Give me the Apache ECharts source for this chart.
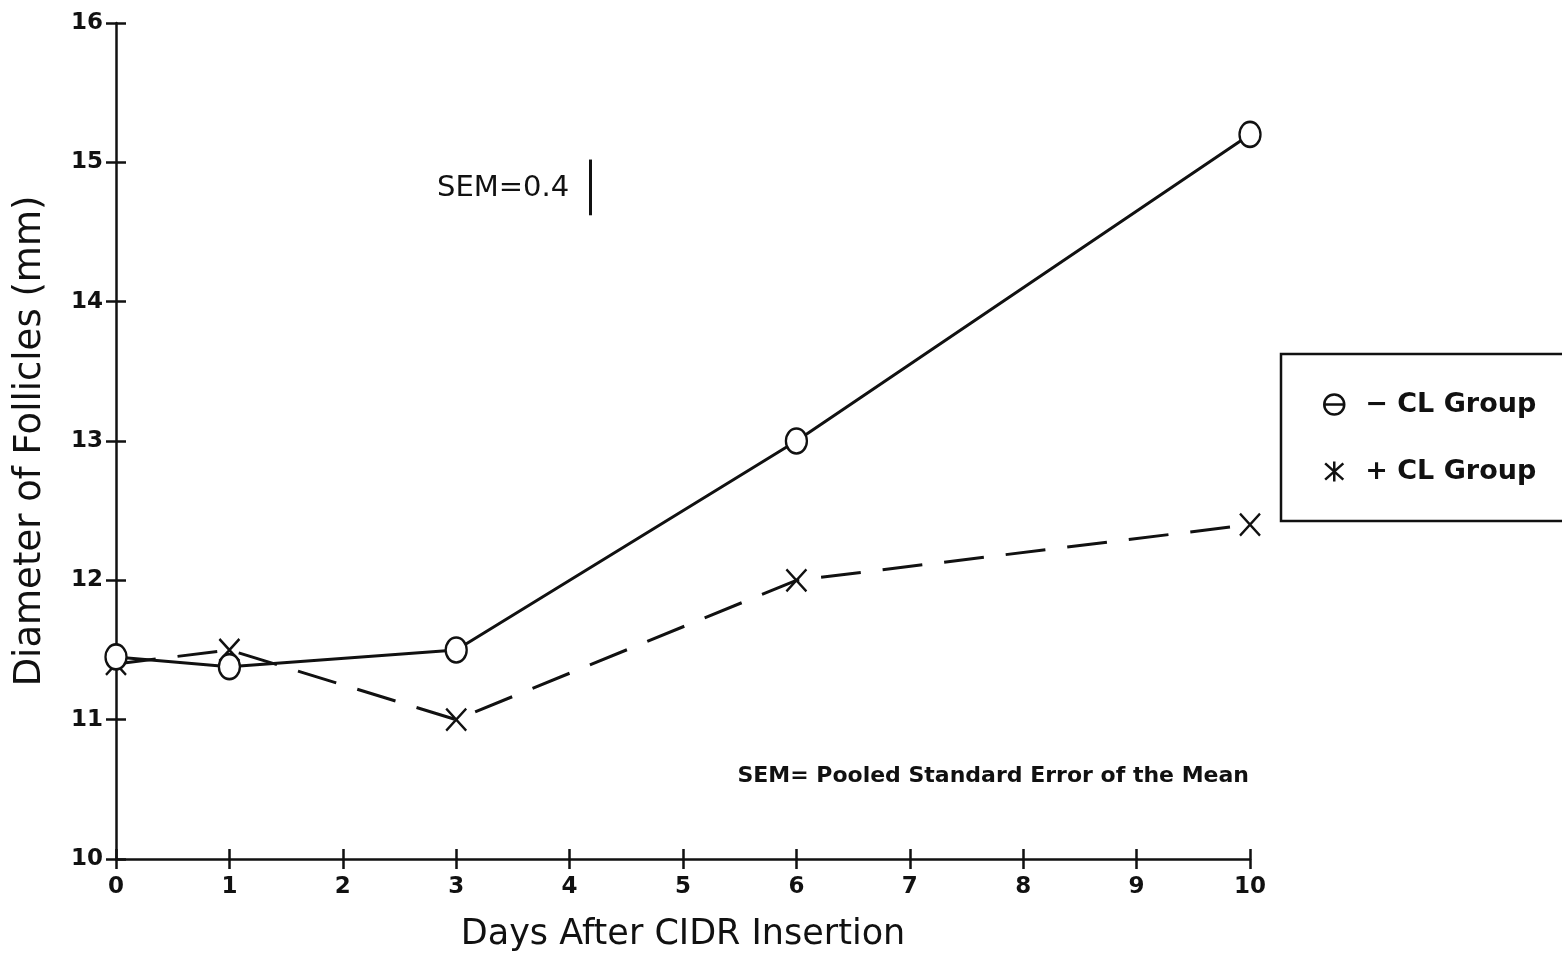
<!DOCTYPE html>
<html>
<head>
<meta charset="utf-8">
<title>Diameter of Follicles</title>
<script src="https://cdn.jsdelivr.net/npm/echarts@6/dist/echarts.min.js"></script>
<style>
  html, body { margin: 0; padding: 0; background: #fff; }
  #chart { width: 1562px; height: 957px; }
</style>
</head>
<body>
<div id="chart"></div>
<script>
// Days after CIDR insertion at which follicles were measured
const days = [0, 1, 3, 6, 10];
// Mean follicle diameter (mm)
const minusCL = [11.45, 11.38, 11.5, 13.0, 15.2];
const plusCL = [11.4, 11.5, 11.0, 12.0, 12.4];
const seriesNames = ['\u2212 CL Group', '+ CL Group'];
// Pooled SEM bar, drawn as a vertical segment of this length
const semValue = 0.4;
const semBarDay = 4.18;
const semBarTop = 15.02;

const FONT = 'DejaVu Sans';
const INK = '#111';

const circlePath = 'path://M0,12 A10,12 0 1,1 20,12 A10,12 0 1,1 0,12 Z';
const crossPath = 'path://M0,0 L20,22 M20,0 L0,22';
const thetaPath = 'path://M0,10 A10,10 0 1,1 20,10 A10,10 0 1,1 0,10 Z M0,10 L20,10';
const starPath = 'path://M0,2 L20,20 M20,2 L0,20 M10,0 L10,22';

const chart = echarts.init(document.getElementById('chart'), null, { renderer: 'canvas' });

const pairs = arr => days.map((d, i) => [d, arr[i]]);

const tickLabel = { color: INK, fontFamily: FONT, fontSize: 23, fontWeight: 'bold' };

chart.setOption({
  animation: false,
  backgroundColor: '#fff',
  grid: { left: 116, right: 312, top: 23, bottom: 97, containLabel: false },
  xAxis: [
    {
      type: 'value', min: 0, max: 10, interval: 1,
      axisLine: { show: true, lineStyle: { color: INK, width: 2.5 } },
      axisTick: { show: true, length: 10, lineStyle: { color: INK, width: 2.5 } },
      axisLabel: Object.assign({ margin: 17 }, tickLabel),
      splitLine: { show: false },
      name: 'Days After CIDR Insertion',
      nameLocation: 'middle',
      nameGap: 58,
      nameTextStyle: { color: INK, fontFamily: FONT, fontSize: 35 }
    },
    {
      type: 'value', min: 0, max: 10, interval: 1, position: 'bottom', offset: 0,
      axisLine: { show: false },
      axisTick: { show: true, inside: true, length: 10, lineStyle: { color: INK, width: 2.5 } },
      axisLabel: { show: false },
      splitLine: { show: false }
    }
  ],
  yAxis: [
    {
      type: 'value', min: 10, max: 16, interval: 1,
      axisLine: { show: true, lineStyle: { color: INK, width: 2.5 } },
      axisTick: { show: true, length: 10, lineStyle: { color: INK, width: 2.5 } },
      axisLabel: Object.assign({ margin: 13 }, tickLabel),
      splitLine: { show: false },
      name: 'Diameter of Follicles (mm)',
      nameLocation: 'middle',
      nameGap: 67,
      nameTextStyle: { color: INK, fontFamily: FONT, fontSize: 37 }
    },
    {
      type: 'value', min: 10, max: 16, interval: 1, position: 'left', offset: 0,
      axisLine: { show: false },
      axisTick: { show: true, inside: true, length: 10, lineStyle: { color: INK, width: 2.5 } },
      axisLabel: { show: false },
      splitLine: { show: false }
    }
  ],
  legend: {
    orient: 'vertical',
    left: 1318,
    top: 386,
    itemGap: 40,
    itemWidth: 20,
    itemHeight: 20,
    textStyle: { color: INK, fontFamily: FONT, fontSize: 27, fontWeight: 'bold', padding: [0, 0, 0, 16] },
    data: [
      { name: seriesNames[0], icon: thetaPath, itemStyle: { color: 'transparent', borderColor: INK, borderWidth: 2.5 } },
      { name: seriesNames[1], icon: starPath, itemStyle: { color: 'transparent', borderColor: INK, borderWidth: 2.5 } }
    ]
  },
  graphic: [
    {
      type: 'rect',
      shape: { x: 1281, y: 354, width: 300, height: 167 },
      style: { fill: 'none', stroke: INK, lineWidth: 2.5 }
    },
    {
      type: 'text',
      left: 437, top: 174,
      style: { text: 'SEM=0.4', fill: INK, font: '29px "DejaVu Sans"' }
    },
    {
      type: 'text',
      right: 1562 - 1249, top: 765,
      style: { text: 'SEM= Pooled Standard Error of the Mean', fill: INK, font: 'bold 22px "DejaVu Sans"' }
    }
  ],
  series: [
    {
      name: seriesNames[0],
      type: 'line',
      data: pairs(minusCL),
      symbol: circlePath,
      symbolSize: [21, 25],
      showSymbol: true,
      lineStyle: { color: INK, width: 3, type: 'solid' },
      itemStyle: { color: '#fff', borderColor: INK, borderWidth: 2.5 },
      z: 3,
      markLine: {
        silent: true,
        symbol: 'none',
        label: { show: false },
        lineStyle: { color: INK, width: 3, type: 'solid' },
        data: [[{ coord: [semBarDay, semBarTop - semValue] }, { coord: [semBarDay, semBarTop] }]]
      }
    },
    {
      name: seriesNames[1],
      type: 'line',
      data: pairs(plusCL),
      symbol: crossPath,
      symbolSize: [20, 22],
      showSymbol: true,
      lineStyle: { color: INK, width: 3, type: [40, 22] },
      itemStyle: { color: 'transparent', borderColor: INK, borderWidth: 2.5 },
      z: 2
    }
  ]
});
</script>
</body>
</html>
